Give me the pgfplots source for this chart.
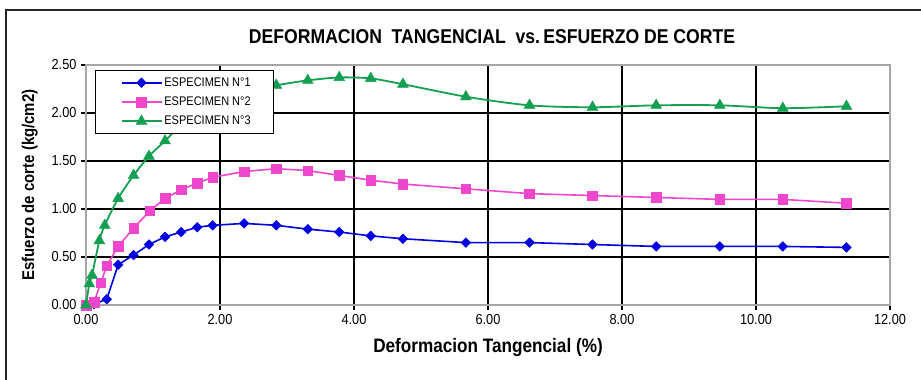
\documentclass[border=0pt]{standalone}
\usepackage{fontspec}
\setmainfont{Liberation Sans}[FakeStretch=0.88]
\usepackage{pgfplots}
\pgfplotsset{compat=1.18}
\definecolor{cblue}{RGB}{0,0,225}
\definecolor{cpink}{RGB}{238,70,205}
\definecolor{cgreen}{RGB}{20,160,80}
\begin{document}
\begin{tikzpicture}
\useasboundingbox (0,0) rectangle (921pt,380pt);
\fill[white] (0,0) rectangle (921pt,380pt);
\draw[line width=1.6pt, black!85] (6pt,0) -- (6pt,370pt) -- (921pt,370pt);
\begin{axis}[
  at={(86pt,75pt)}, anchor=south west,
  scale only axis, width=804pt, height=240pt,
  xmin=0, xmax=12, ymin=0, ymax=2.5,
  xtick={0,2,...,12}, ytick={0,0.5,...,2.5},
  /pgf/number format/assume math mode=true,
  xticklabel={\pgfmathprintnumber[fixed,zerofill,precision=2]{\tick}},
  yticklabel={\pgfmathprintnumber[fixed,zerofill,precision=2]{\tick}},
  tick label style={font=\fontsize{14.5}{16}\selectfont},
  xticklabel style={yshift=-1pt},
  yticklabel style={xshift=-1pt},
  tick align=outside, major tick length=5pt,
  tick style={black, line width=1.2pt},
  xtick pos=bottom, ytick pos=left,
  axis line style={gray!70, line width=1.2pt},
  grid=major, major grid style={black, line width=1.4pt},
  title={DEFORMACION\ \ TANGENCIAL\ \ vs.\,ESFUERZO\ DE\ CORTE},
  title style={font=\bfseries\fontsize{20}{22}\selectfont, at={(axis description cs:0.505,1.095)}, anchor=center},
  xlabel={Deformacion Tangencial (\%)},
  xlabel style={font=\bfseries\fontsize{19.5}{21}\selectfont, at={(axis description cs:0.5,-0.179)}, anchor=center},
  ylabel={Esfuerzo de corte (kg/cm2)},
  ylabel style={font=\bfseries\fontsize{17}{19}\selectfont, at={(axis description cs:-0.07,0.5)}, anchor=center},
  legend style={at={(axis description cs:0.0112,0.979)}, anchor=north west,
    draw=black, line width=1.2pt, fill=white, font=\fontsize{12.5}{14}\selectfont,
    inner xsep=3pt, inner ysep=5pt, row sep=5pt, cells={anchor=west}},
  legend image code/.code={\path (-22pt,0pt); \draw[mark repeat=2,mark phase=2] plot coordinates {(0pt,0pt)(20pt,0pt)(40pt,0pt)};},
]
\addplot[cblue, line width=1.6pt, mark=square*, mark size=3.4pt, mark options={rotate=45, line width=0.5pt}] coordinates {
(0,0) (0.12,0.01) (0.31,0.06) (0.48,0.42) (0.71,0.52) (0.94,0.63) (1.18,0.71) (1.42,0.76) (1.66,0.81) (1.89,0.83) (2.36,0.85) (2.84,0.83) (3.31,0.79) (3.78,0.76) (4.25,0.72) (4.73,0.69) (5.67,0.65) (6.62,0.65) (7.56,0.63) (8.51,0.61) (9.46,0.61) (10.40,0.61) (11.35,0.60)};
\addlegendentry{\makebox[104pt][l]{ESPECIMEN N°1}}
\addplot[cpink, line width=1.6pt, mark=square*, mark size=4.8pt, mark options={line width=0.5pt}] coordinates {
(0,0) (0.12,0.03) (0.22,0.23) (0.31,0.41) (0.48,0.61) (0.71,0.80) (0.95,0.98) (1.18,1.11) (1.42,1.20) (1.66,1.27) (1.89,1.33) (2.36,1.39) (2.84,1.42) (3.31,1.40) (3.78,1.35) (4.25,1.30) (4.73,1.26) (5.67,1.21) (6.62,1.16) (7.56,1.14) (8.51,1.12) (9.46,1.10) (10.40,1.10) (11.35,1.06)};
\addlegendentry{\makebox[104pt][l]{ESPECIMEN N°2}}
\addplot[cgreen, line width=1.8pt, smooth, mark=triangle*, mark size=6.2pt, mark options={line width=0.5pt}] coordinates {
(0,0) (0.05,0.22) (0.09,0.31) (0.20,0.67) (0.28,0.83) (0.48,1.11) (0.71,1.35) (0.94,1.55) (1.18,1.71) (1.42,1.88) (1.66,2.02) (1.89,2.15) (2.36,2.24) (2.84,2.29) (3.31,2.34) (3.78,2.37) (4.25,2.36) (4.73,2.30) (5.67,2.17) (6.62,2.08) (7.56,2.06) (8.51,2.08) (9.46,2.08) (10.40,2.05) (11.35,2.07)};
\addlegendentry{\makebox[104pt][l]{ESPECIMEN N°3}}
\end{axis}
\end{tikzpicture}
\end{document}
